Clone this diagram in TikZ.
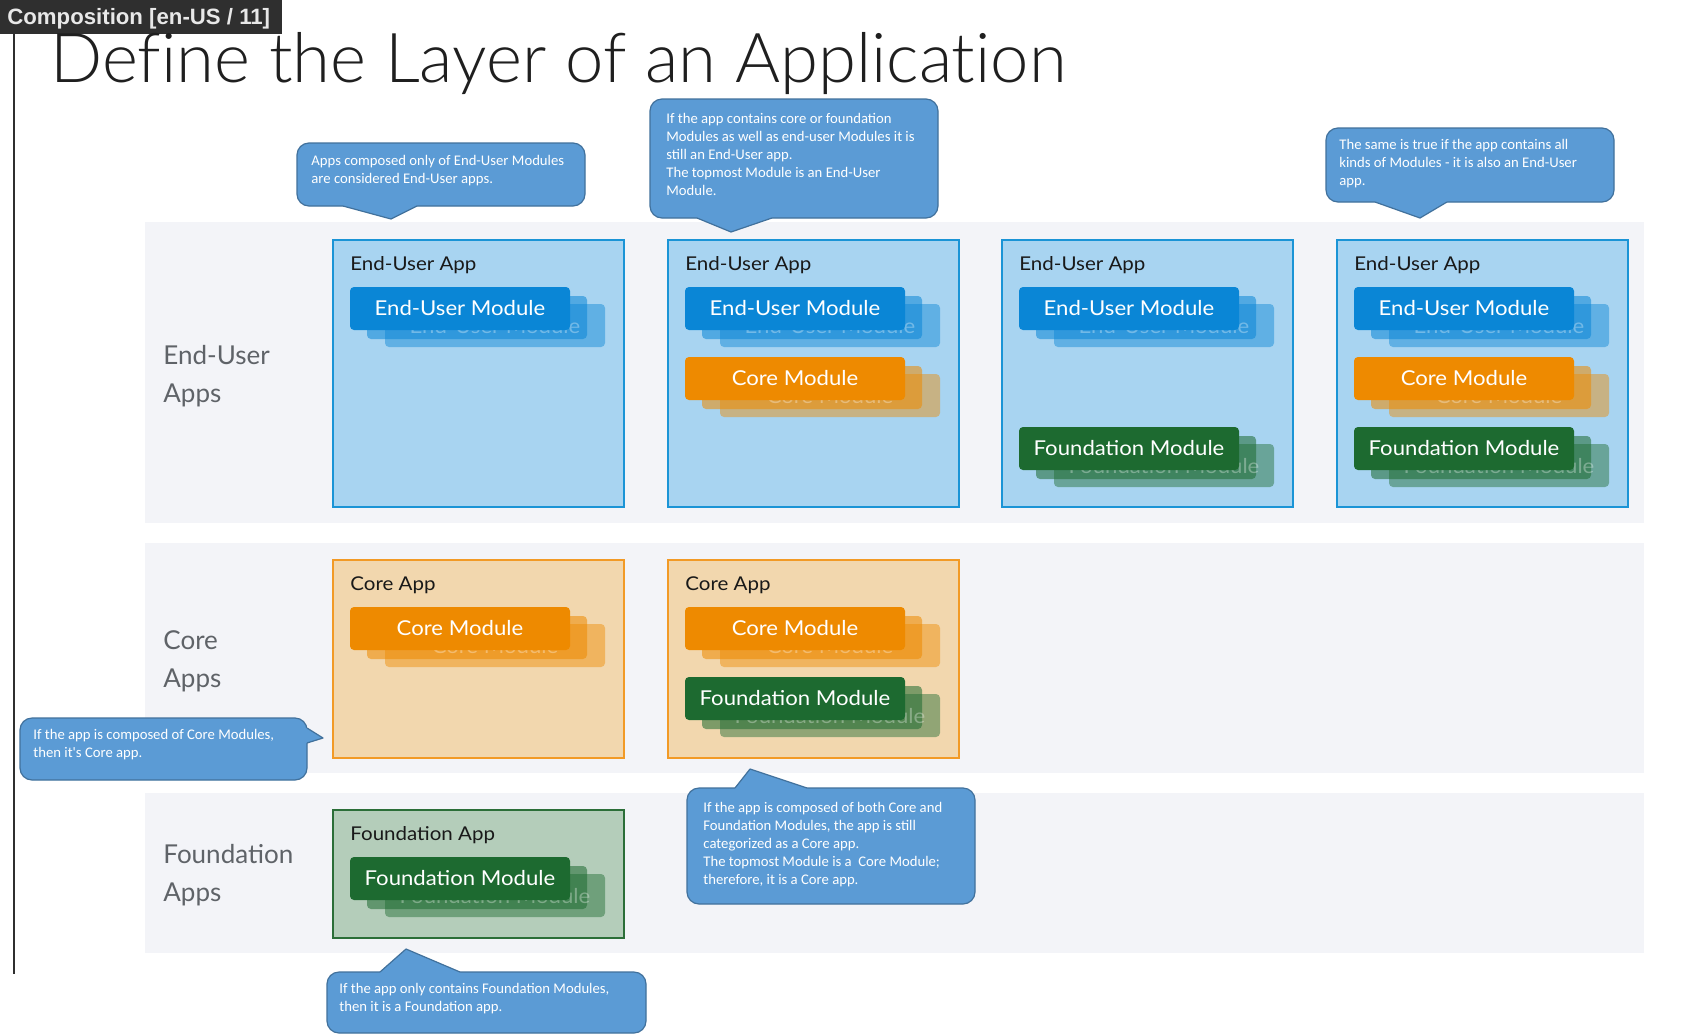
\documentclass[tikz,border=0pt]{standalone}
\usepackage{fontspec}
\setmainfont{Lato}
\newfontfamily\boxfont{Lato}[FakeStretch=1.08]
\newfontfamily\calfont{Carlito}
\newfontfamily\arialfont{Liberation Sans}
\newfontfamily\titlefont{Lato Light}[Ligatures=NoCommon]
\usetikzlibrary{fit}
\definecolor{bandbg}{HTML}{F3F4F8}
\definecolor{euFill}{HTML}{A8D4F1}
\definecolor{euLine}{HTML}{1A94D6}
\definecolor{euMod}{HTML}{0A86D6}
\definecolor{coFill}{HTML}{F2D7AE}
\definecolor{coLine}{HTML}{F29A26}
\definecolor{coMod}{HTML}{EE8A00}
\definecolor{fnFill}{HTML}{B4CDBA}
\definecolor{fnLine}{HTML}{2B6E38}
\definecolor{fnMod}{HTML}{1D6A30}
\definecolor{callFill}{HTML}{5B9BD5}
\definecolor{callLine}{HTML}{41719C}
\definecolor{bandText}{HTML}{5F6368}
\definecolor{hdrBg}{HTML}{2F2F2F}
\definecolor{hdrText}{HTML}{E8E8E8}
\newcommand{\modstack}[5]{%
  \fill[#4, opacity=0.45, rounded corners=2pt] ({#2+35},{#3+17}) rectangle ++(220,43);
  \fill[#4, opacity=0.55, rounded corners=2pt] ({#2+17},{#3+9}) rectangle ++(220,43);
  \node[modghost] (#1g) at ({#2+145},{#3+39}) {#5};
  \node[modfront, fill=#4] (#1) at ({#2+110},{#3+21.5}) {#5};
}
\begin{document}
\begin{tikzpicture}[x=0.5pt,y=-0.5pt,
  band/.style={fill=bandbg},
  bandlabel/.style={anchor=west, inner sep=0, align=left, text=bandText, font=\fontsize{13}{19}\selectfont},
  appbox/.style={anchor=north west, inner sep=0, line width=1pt, minimum width=145.5pt},
  apptitle/.style={anchor=base west, inner sep=0, text=black!90, font=\boxfont\fontsize{9.5}{11}\selectfont},
  modfront/.style={rounded corners=2pt, minimum width=110pt, minimum height=21.5pt, inner sep=0, text=white, font=\boxfont\fontsize{10.25}{12}\selectfont},
  modghost/.style={inner sep=0, text=white, text opacity=0.32, font=\boxfont\fontsize{10.25}{12}\selectfont},
  callbody/.style={inner sep=0, fill=callFill, draw=callLine, line width=0.6pt, rounded corners=6pt},
  callfill/.style={fill=callFill},
  callline/.style={draw=callLine, line width=0.6pt, line join=round},
  calltext/.style={anchor=north west, inner sep=0, align=left, text=white, font=\calfont\fontsize{7.35}{9}\selectfont}]
\useasboundingbox (0,0) rectangle (1682,1034);
\fill[white] (0,0) rectangle (1682,1034);

% left rule and header
\coordinate (ruleTop) at (13.5,0);
\coordinate (ruleBot) at (13.5,974);
\draw[line width=1pt, hdrBg] (ruleTop) -- (ruleBot);
\node[fill=hdrBg, anchor=north west, minimum width=141pt, minimum height=17pt, inner sep=0] (hdr) at (0,0) {};
\node[anchor=base west, inner sep=0, text=hdrText] (hdrt) at (7,24) {\arialfont\bfseries\fontsize{11.1}{12}\selectfont Composition [en-US / 11]};

% title
\node[anchor=base west, inner sep=0, text=black!88] (title) at (50,82) {\titlefont\fontsize{34.4}{36}\selectfont Define the Layer of an Application};

% bands
\fill[band] (145,222) rectangle (1644,523);
\fill[band] (145,543) rectangle (1644,773);
\fill[band] (145,793) rectangle (1644,953);
\node[bandlabel] (bl1) at (163,376) {End-User\\Apps};
\node[bandlabel] (bl2) at (163,661) {Core\\Apps};
\node[bandlabel] (bl3) at (163,875) {Foundation\\Apps};

% row 1
\node[appbox, draw=euLine, fill=euFill, minimum height=133.5pt] (app1) at (332,239) {};
\node[apptitle] (app1t) at (350,270) {End-User App};
\modstack{m1a}{350}{287}{euMod}{End-User Module}

\node[appbox, draw=euLine, fill=euFill, minimum height=133.5pt] (app2) at (667,239) {};
\node[apptitle] (app2t) at (685,270) {End-User App};
\modstack{m2a}{685}{287}{euMod}{End-User Module}
\modstack{m2b}{685}{357}{coMod}{Core Module}

\node[appbox, draw=euLine, fill=euFill, minimum height=133.5pt] (app3) at (1001,239) {};
\node[apptitle] (app3t) at (1019,270) {End-User App};
\modstack{m3a}{1019}{287}{euMod}{End-User Module}
\modstack{m3b}{1019}{427}{fnMod}{Foundation Module}

\node[appbox, draw=euLine, fill=euFill, minimum height=133.5pt] (app4) at (1336,239) {};
\node[apptitle] (app4t) at (1354,270) {End-User App};
\modstack{m4a}{1354}{287}{euMod}{End-User Module}
\modstack{m4b}{1354}{357}{coMod}{Core Module}
\modstack{m4c}{1354}{427}{fnMod}{Foundation Module}

% row 2
\node[appbox, draw=coLine, fill=coFill, minimum height=99pt] (app5) at (332,559) {};
\node[apptitle] (app5t) at (350,590) {Core App};
\modstack{m5a}{350}{607}{coMod}{Core Module}

\node[appbox, draw=coLine, fill=coFill, minimum height=99pt] (app6) at (667,559) {};
\node[apptitle] (app6t) at (685,590) {Core App};
\modstack{m6a}{685}{607}{coMod}{Core Module}
\modstack{m6b}{685}{677}{fnMod}{Foundation Module}

% row 3
\node[appbox, draw=fnLine, fill=fnFill, minimum height=64pt] (app7) at (332,809) {};
\node[apptitle] (app7t) at (350,840) {Foundation App};
\modstack{m7a}{350}{857}{fnMod}{Foundation Module}

% callouts
\node[callbody, fit={(297,143)(585,206)}] (c1) {};
\fill[callfill] (343,203) -- (343,206) -- (391,219) -- (417,206) -- (417,203) -- cycle;
\draw[callline] (343,206) -- (391,219) -- (417,206);
\node[calltext] (c1t) at (311,154.5) {Apps composed only of End-User Modules\\are considered End-User apps.};

\node[callbody, fit={(650,99)(938,218)}] (c2) {};
\fill[callfill] (697,215) -- (697,218) -- (731,232) -- (772,218) -- (772,215) -- cycle;
\draw[callline] (697,218) -- (731,232) -- (772,218);
\node[calltext] (c2t) at (666,112.5) {If the app contains core or foundation\\Modules as well as end-user Modules it is\\still an End-User app.\\The topmost Module is an End-User\\Module.};

\node[callbody, fit={(1326,128)(1614,202)}] (c3) {};
\fill[callfill] (1375,199) -- (1375,202) -- (1420,218) -- (1447,202) -- (1447,199) -- cycle;
\draw[callline] (1375,202) -- (1420,218) -- (1447,202);
\node[calltext] (c3t) at (1339,138.5) {The same is true if the app contains all\\kinds of Modules - it is also an End-User\\app.};

\node[callbody, fit={(20,718)(307,780)}] (c4) {};
\fill[callfill] (304,728) -- (307,728) -- (323,738) -- (307,743) -- (304,743) -- cycle;
\draw[callline] (307,728) -- (323,738) -- (307,743);
\node[calltext] (c4t) at (33,728.5) {If the app is composed of Core Modules,\\then it's Core app.};

\node[callbody, fit={(687,788)(975,904)}] (c5) {};
\fill[callfill] (735,791) -- (735,788) -- (750,769) -- (807,788) -- (807,791) -- cycle;
\draw[callline] (735,788) -- (750,769) -- (807,788);
\node[calltext] (c5t) at (703,801.5) {If the app is composed of both Core and\\Foundation Modules, the app is still\\categorized as a Core app.\\The topmost Module is a\ \ Core Module;\\therefore, it is a Core app.};

\node[callbody, fit={(327,972)(646,1033)}] (c6) {};
\fill[callfill] (380,975) -- (380,972) -- (406,949) -- (460,972) -- (460,975) -- cycle;
\draw[callline] (380,972) -- (406,949) -- (460,972);
\node[calltext] (c6t) at (339,982.5) {If the app only contains Foundation Modules,\\then it is a Foundation app.};
\end{tikzpicture}
\end{document}
